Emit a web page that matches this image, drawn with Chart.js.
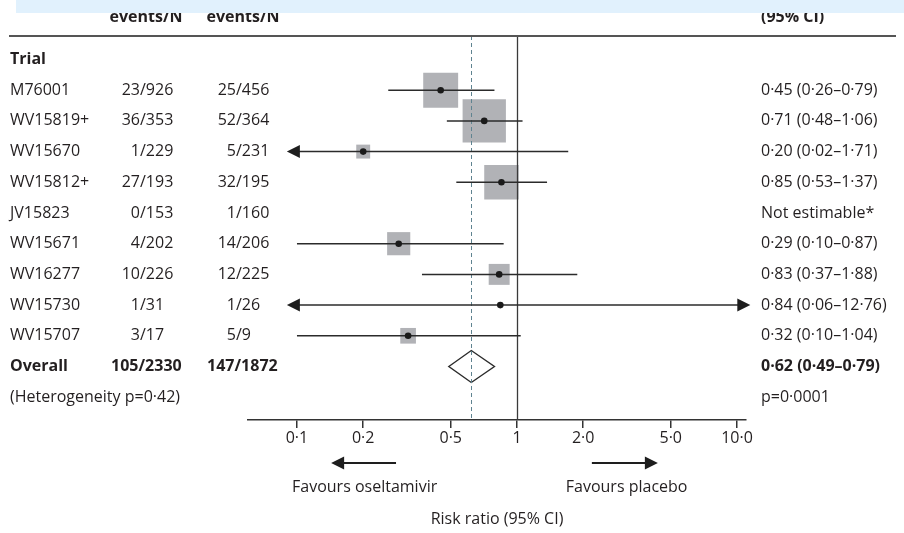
<!DOCTYPE html>
<html>
<head>
<meta charset="utf-8">
<script src="https://cdn.jsdelivr.net/npm/chart.js@4.4.1/dist/chart.umd.min.js"></script>
<style>
  html, body { margin: 0; padding: 0; background: #ffffff; }
  canvas { display: block; }
</style>
</head>
<body>
<canvas id="c" width="904" height="533"></canvas>
<script>
// ---------------- DATA ----------------
const trials      = ['M76001', 'WV15819+', 'WV15670', 'WV15812+', 'JV15823', 'WV15671', 'WV16277', 'WV15730', 'WV15707'];
const oseEvents   = [23, 36, 1, 27, 0, 4, 10, 1, 3];
const oseN        = [926, 353, 229, 193, 153, 202, 226, 31, 17];
const plaEvents   = [25, 52, 5, 32, 1, 14, 12, 1, 5];
const plaN        = [456, 364, 231, 195, 160, 206, 225, 26, 9];
const riskRatio   = [0.45, 0.71, 0.20, 0.85, null, 0.29, 0.83, 0.84, 0.32];
const ciLow       = [0.26, 0.48, 0.02, 0.53, null, 0.10, 0.37, 0.06, 0.10];
const ciHigh      = [0.79, 1.06, 1.71, 1.37, null, 0.87, 1.88, 12.76, 1.04];
const weights     = [21.4, 32.9, 3.4, 20.8, 0, 9.4, 7.7, 0.2, 4.3];   // % study weight (box area)

const overall     = { label: 'Overall', oseE: 105, oseN: 2330, plaE: 147, plaN: 1872, rr: 0.62, lo: 0.49, hi: 0.79 };
const heterogeneityText = '(Heterogeneity p=0·42)';
const overallPText      = 'p=0·0001';
const notEstimableText  = 'Not estimable*';

const tickValues  = [0.1, 0.2, 0.5, 1, 2, 5, 10];
const tickLabels  = ['0·1', '0·2', '0·5', '1', '2·0', '5·0', '10·0'];

const headerGroup = ['events/N', 'events/N', '(95% CI)'];
const favourLeft  = 'Favours oseltamivir';
const favourRight = 'Favours placebo';
const axisTitle   = 'Risk ratio (95% CI)';

// ---------------- STYLE ----------------
const FONT = '"Open Sans"';
const FS = 16;
const TEXT = '#231f20';
const LINE = '#2b2b2b';
const BOX  = '#b1b2b6';
const BOX_SCALE = 7.55;           // px per sqrt(weight %)
const CLIP_LO = 0.09, CLIP_HI = 11.5;  // where out-of-range CIs end with an arrow

const fmt = v => v.toFixed(2).replace('.', '·');

// rows: 0 = "Trial", 1..9 = trials, 10 = Overall, 11 = heterogeneity
const boxPoints = [];
const dotPoints = [];
trials.forEach((t, i) => {
  if (riskRatio[i] != null) {
    boxPoints.push({ x: riskRatio[i], y: i + 1, w: weights[i] });
    dotPoints.push({ x: riskRatio[i], y: i + 1 });
  }
});

function arrowHead(ctx, x, y, dir) {
  const L = 13, H = 6.5;
  ctx.beginPath();
  ctx.moveTo(x, y);
  ctx.lineTo(x - dir * L, y - H);
  ctx.lineTo(x - dir * L, y + H);
  ctx.closePath();
  ctx.fill();
}

const forestPlugin = {
  id: 'forest',
  beforeDraw(chart) {
    const ctx = chart.ctx;
    ctx.save();
    ctx.fillStyle = '#ffffff';
    ctx.fillRect(0, 0, chart.width, chart.height);
    ctx.restore();
  },
  afterDatasetDraw(chart, args) {
    if (args.index !== 0) return;
    const ctx = chart.ctx;
    const xs = chart.scales.x, ys = chart.scales.y;
    const ca = chart.chartArea;
    ctx.save();
    // diamond for overall
    const dy = ys.getPixelForValue(10);
    ctx.beginPath();
    ctx.moveTo(xs.getPixelForValue(overall.lo), dy);
    ctx.lineTo(xs.getPixelForValue(overall.rr), dy - 16);
    ctx.lineTo(xs.getPixelForValue(overall.hi), dy);
    ctx.lineTo(xs.getPixelForValue(overall.rr), dy + 16);
    ctx.closePath();
    ctx.strokeStyle = LINE;
    ctx.lineWidth = 1.4;
    ctx.stroke();
    // line of no effect
    const x1 = Math.round(xs.getPixelForValue(1)) + 0.5;
    ctx.beginPath();
    ctx.moveTo(x1, ca.top);
    ctx.lineTo(x1, ca.bottom);
    ctx.strokeStyle = '#3a3a3a';
    ctx.lineWidth = 1.3;
    ctx.stroke();
    // pooled estimate dashed line
    const xp = Math.round(xs.getPixelForValue(overall.rr)) + 0.5;
    ctx.beginPath();
    ctx.setLineDash([4, 3]);
    ctx.moveTo(xp, ca.top);
    ctx.lineTo(xp, ca.bottom);
    ctx.strokeStyle = '#5f8390';
    ctx.lineWidth = 1;
    ctx.stroke();
    ctx.setLineDash([]);
    // confidence intervals
    ctx.strokeStyle = LINE;
    ctx.fillStyle = '#1e1e1e';
    ctx.lineWidth = 1.5;
    trials.forEach((t, i) => {
      if (riskRatio[i] == null) return;
      const y = ys.getPixelForValue(i + 1);
      const loClipped = ciLow[i] < CLIP_LO;
      const hiClipped = ciHigh[i] > CLIP_HI;
      const xl = xs.getPixelForValue(loClipped ? CLIP_LO : ciLow[i]);
      const xh = xs.getPixelForValue(hiClipped ? CLIP_HI : ciHigh[i]);
      ctx.beginPath();
      ctx.moveTo(loClipped ? xl + 10 : xl, y);
      ctx.lineTo(hiClipped ? xh - 10 : xh, y);
      ctx.stroke();
      if (loClipped) arrowHead(ctx, xl, y, -1);
      if (hiClipped) arrowHead(ctx, xh, y, 1);
    });
    ctx.restore();
  },
  afterDraw(chart) {
    const ctx = chart.ctx;
    const xs = chart.scales.x, ys = chart.scales.y;
    const ca = chart.chartArea;
    const xName = 10, xSlash1 = 140, xSlash2 = 236, xRight = ca.right + 15;
    ctx.save();
    ctx.fillStyle = TEXT;
    ctx.textBaseline = 'middle';

    const drawFrac = (num, den, xs_, y) => {
      ctx.textAlign = 'right';
      ctx.fillText(String(num), xs_, y);
      ctx.textAlign = 'left';
      ctx.fillText('/' + den, xs_, y);
    };

    // "Trial"
    ctx.font = `bold ${FS}px ${FONT}`;
    ctx.textAlign = 'left';
    ctx.fillText('Trial', xName, ys.getPixelForValue(0));

    // trial rows
    ctx.font = `${FS}px ${FONT}`;
    trials.forEach((t, i) => {
      const y = ys.getPixelForValue(i + 1);
      ctx.textAlign = 'left';
      ctx.fillText(t, xName, y);
      drawFrac(oseEvents[i], oseN[i], xSlash1, y);
      drawFrac(plaEvents[i], plaN[i], xSlash2, y);
      ctx.textAlign = 'left';
      const txt = riskRatio[i] == null ? notEstimableText
        : `${fmt(riskRatio[i])} (${fmt(ciLow[i])}–${fmt(ciHigh[i])})`;
      ctx.fillText(txt, xRight, y);
    });

    // overall
    const yo = ys.getPixelForValue(10);
    ctx.font = `bold ${FS}px ${FONT}`;
    ctx.textAlign = 'left';
    ctx.fillText(overall.label, xName, yo);
    drawFrac(overall.oseE, overall.oseN, xSlash1 - 1.5, yo);
    drawFrac(overall.plaE, overall.plaN, xSlash2 - 1.5, yo);
    ctx.textAlign = 'left';
    ctx.fillText(`${fmt(overall.rr)} (${fmt(overall.lo)}–${fmt(overall.hi)})`, xRight, yo);

    // heterogeneity
    const yh = ys.getPixelForValue(11);
    ctx.font = `${FS}px ${FONT}`;
    ctx.fillText(heterogeneityText, xName, yh);
    ctx.fillText(overallPText, xRight, yh);

    // header rule
    ctx.beginPath();
    ctx.moveTo(9, ca.top);
    ctx.lineTo(896, ca.top);
    ctx.strokeStyle = '#555555';
    ctx.lineWidth = 2;
    ctx.stroke();

    // column headers (partly hidden by banner)
    ctx.font = `bold ${FS}px ${FONT}`;
    ctx.textBaseline = 'alphabetic';
    ctx.textAlign = 'center';
    ctx.fillText(headerGroup[0], 146, 22);
    ctx.fillText(headerGroup[1], 243, 22);
    ctx.textAlign = 'left';
    ctx.fillText(headerGroup[2], xRight, 22);

    // favours arrows
    const ya = ca.bottom + 43;
    ctx.strokeStyle = '#1e1e1e';
    ctx.fillStyle = '#1e1e1e';
    ctx.lineWidth = 2;
    const la = xs.getPixelForValue(0.282), lt = xs.getPixelForValue(0.143);
    ctx.beginPath(); ctx.moveTo(la, ya); ctx.lineTo(lt + 10, ya); ctx.stroke();
    arrowHead(ctx, lt, ya, -1);
    const ra = xs.getPixelForValue(2.19), rt = xs.getPixelForValue(4.37);
    ctx.beginPath(); ctx.moveTo(ra, ya); ctx.lineTo(rt - 10, ya); ctx.stroke();
    arrowHead(ctx, rt, ya, 1);

    ctx.fillStyle = TEXT;
    ctx.font = `${FS}px ${FONT}`;
    ctx.textBaseline = 'middle';
    ctx.textAlign = 'center';
    ctx.fillText(favourLeft, xs.getPixelForValue(0.203), ca.bottom + 67);
    ctx.fillText(favourRight, xs.getPixelForValue(3.15), ca.bottom + 67);

    // top banner
    ctx.fillStyle = '#e1f1fd';
    ctx.fillRect(16, 0, chart.width - 16, 13);
    ctx.restore();
  }
};

new Chart(document.getElementById('c'), {
  type: 'scatter',
  data: {
    datasets: [
      {
        label: 'weight',
        data: boxPoints,
        order: 2,
        pointStyle: 'rect',
        backgroundColor: BOX,
        borderWidth: 0,
        pointRadius: c => (Math.sqrt(c.raw.w) * BOX_SCALE) / Math.SQRT2,
        pointHoverRadius: c => (Math.sqrt(c.raw.w) * BOX_SCALE) / Math.SQRT2
      },
      {
        label: 'risk ratio',
        data: dotPoints,
        order: 1,
        pointStyle: 'circle',
        backgroundColor: '#1a1a1a',
        borderWidth: 0,
        pointRadius: 3.3,
        pointHoverRadius: 3.3
      }
    ]
  },
  options: {
    responsive: false,
    devicePixelRatio: 1,
    animation: false,
    events: [],
    layout: { autoPadding: false, padding: { left: 248, right: 158, top: 36, bottom: 0 } },
    plugins: { legend: { display: false }, tooltip: { enabled: false } },
    scales: {
      x: {
        type: 'logarithmic',
        position: 'bottom',
        min: 0.0599,
        max: 10.99,
        afterBuildTicks: s => { s.ticks = tickValues.map(v => ({ value: v })); },
        afterFit: s => { s.height = 113; },
        grid: { drawOnChartArea: false, drawTicks: true, tickLength: 8, color: '#333333', lineWidth: 1.5 },
        border: { display: true, color: '#333333', width: 1.5 },
        ticks: {
          autoSkip: false, maxRotation: 0, padding: 1,
          color: TEXT, font: { family: 'Open Sans', size: FS },
          callback: (v, i) => tickLabels[i]
        },
        title: {
          display: true, text: axisTitle, color: TEXT,
          font: { family: 'Open Sans', size: FS },
          padding: { top: 0, bottom: 4 }
        }
      },
      y: {
        type: 'linear',
        display: false,
        reverse: true,
        min: -0.765,
        max: 11.743
      }
    }
  },
  plugins: [forestPlugin]
});
</script>
</body>
</html>
